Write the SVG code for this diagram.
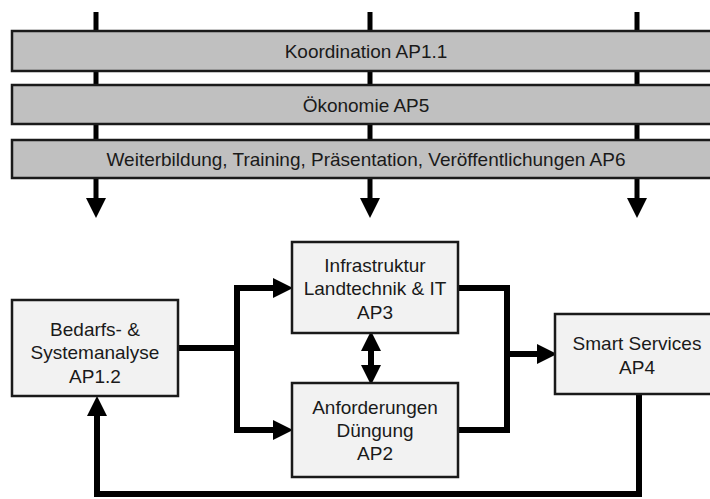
<svg xmlns="http://www.w3.org/2000/svg" width="710" height="499" viewBox="0 0 710 499">
<style>
.bar{fill:#c0c0c0;stroke:#1a1a1a;stroke-width:2.5}
.node{fill:#f2f2f2;stroke:#1a1a1a;stroke-width:2.5}
text{font-family:"Liberation Sans",Arial,sans-serif;font-size:19px;fill:#1a1a1a;text-anchor:middle}
.c{fill:none;stroke:#000;stroke-width:6}
.v{fill:none;stroke:#000;stroke-width:5}
</style>
<defs>
<marker id="ah" markerUnits="userSpaceOnUse" markerWidth="20" markerHeight="20" refX="0" refY="9.5" orient="auto-start-reverse" viewBox="0 0 19 19">
<path d="M0,0 L19,9.5 L0,19 z" fill="#000"/>
</marker>
</defs>
<g id="connectors">
<path class="v" d="M96,12 V198" marker-end="url(#ah)"/>
<path class="v" d="M370,12 V198" marker-end="url(#ah)"/>
<path class="v" d="M637,12 V198" marker-end="url(#ah)"/>
<path class="c" d="M178,348 H237"/>
<path class="c" d="M273,288 H237 V430 H273" marker-start="url(#ah)" marker-end="url(#ah)"/>
<path class="c" d="M458,288 H507 V430 H458"/>
<path class="c" d="M507,354 H537" marker-end="url(#ah)"/>
<path class="c" d="M371,351 V365" marker-start="url(#ah)" marker-end="url(#ah)"/>
<path class="c" d="M639,394 V494 H97 V416" marker-end="url(#ah)"/>
</g>
<g id="bar-ap11">
<rect class="bar" x="12" y="31" width="708" height="40"/>
<text x="366" y="58">Koordination AP1.1</text>
</g>
<g id="bar-ap5">
<rect class="bar" x="12" y="85" width="708" height="39"/>
<text x="366" y="111.5">Ökonomie AP5</text>
</g>
<g id="bar-ap6">
<rect class="bar" x="12" y="140" width="708" height="38"/>
<text x="366" y="166">Weiterbildung, Training, Präsentation, Veröffentlichungen AP6</text>
</g>
<g id="node-ap12">
<rect class="node" x="12" y="300" width="166" height="96"/>
<text x="95" y="336">Bedarfs- &amp;</text>
<text x="95" y="359">Systemanalyse</text>
<text x="95" y="383">AP1.2</text>
</g>
<g id="node-ap3">
<rect class="node" x="292" y="242" width="166" height="91"/>
<text x="375" y="272">Infrastruktur</text>
<text x="375" y="295">Landtechnik &amp; IT</text>
<text x="375" y="318.5">AP3</text>
</g>
<g id="node-ap2">
<rect class="node" x="292" y="383" width="166" height="94"/>
<text x="375" y="414">Anforderungen</text>
<text x="375" y="437">Düngung</text>
<text x="375" y="460">AP2</text>
</g>
<g id="node-ap4">
<rect class="node" x="555" y="314" width="170" height="80"/>
<text x="637" y="350">Smart Services</text>
<text x="637" y="374">AP4</text>
</g>
</svg>
